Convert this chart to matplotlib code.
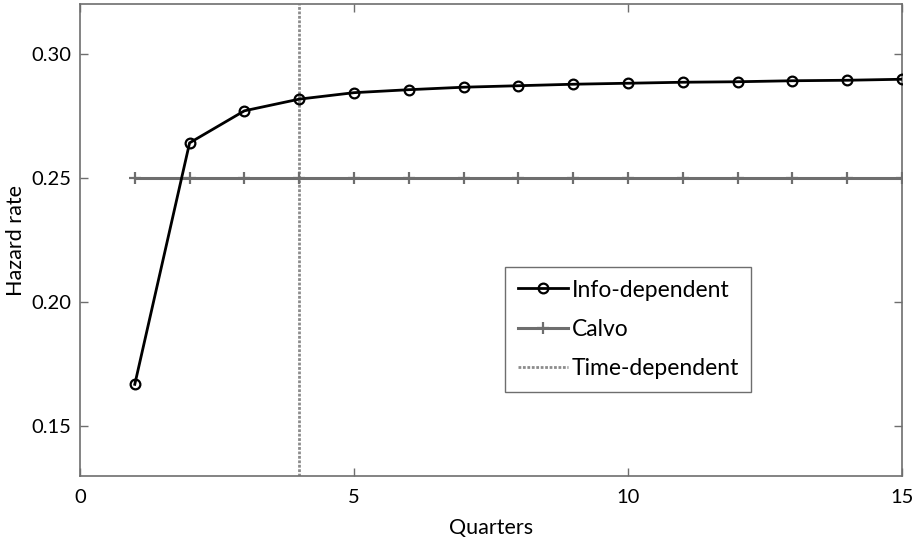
import matplotlib
matplotlib.use("Agg")
import matplotlib.pyplot as plt

plt.rcParams['font.family'] = ['Lato', 'DejaVu Sans']

quarters = list(range(1, 16))
info_dependent = [0.1669, 0.2641, 0.2770, 0.2817, 0.2843, 0.2855, 0.2865, 0.2871,
                  0.2877, 0.2881, 0.2885, 0.2887, 0.2891, 0.2893, 0.2897]
calvo = [0.25] * 15
time_dependent_x = 4

xticks = [0, 5, 10, 15]
yticks = [0.15, 0.20, 0.25, 0.30]
ytick_labels = ["0.15", "0.20", "0.25", "0.30"]

fig = plt.figure(figsize=(9.13, 5.38), dpi=100)
ax = fig.add_axes([0.0876, 0.1152, 0.9004, 0.8774])

ax.plot(quarters, calvo, color='#6e6e6e', lw=2.2, marker='+', ms=8, mew=1.6, label='Calvo', zorder=2)
ax.axvline(time_dependent_x, color='#8c8c8c', lw=2, ls=(0, (1, 0.6)), label='Time-dependent', zorder=1)
ax.plot(quarters, info_dependent, color='black', lw=2, marker='o', ms=7, mfc='none', mew=1.6,
        label='Info-dependent', zorder=3)

ax.set_xlim(0, 15)
ax.set_ylim(0.13, 0.32)
ax.set_xticks(xticks)
ax.set_yticks(yticks)
ax.set_yticklabels(ytick_labels)
ax.tick_params(direction='in', top=True, right=True, length=6, width=1, color='#6e6e6e',
               labelsize=14.5)
ax.tick_params(axis='x', pad=9)
ax.tick_params(axis='y', pad=6)
for s in ax.spines.values():
    s.set_color('#6e6e6e')
    s.set_linewidth(1.2)

ax.set_xlabel('Quarters', fontsize=15.5, labelpad=9)
ax.set_ylabel('Hazard rate', fontsize=15.5, va='center')
ax.yaxis.set_label_coords(-0.078, 0.5)

handles, labels = ax.get_legend_handles_labels()
order = [2, 0, 1]
leg = ax.legend([handles[i] for i in order], [labels[i] for i in order],
                loc='upper left', bbox_to_anchor=(0.517, 0.443), borderaxespad=0,
                fontsize=16.5, fancybox=False, framealpha=1, edgecolor='#6e6e6e',
                handlelength=2.2, handletextpad=0.15, labelspacing=0.8, borderpad=0.55)
leg.get_frame().set_linewidth(1)

fig.savefig('out.png', dpi=100)
